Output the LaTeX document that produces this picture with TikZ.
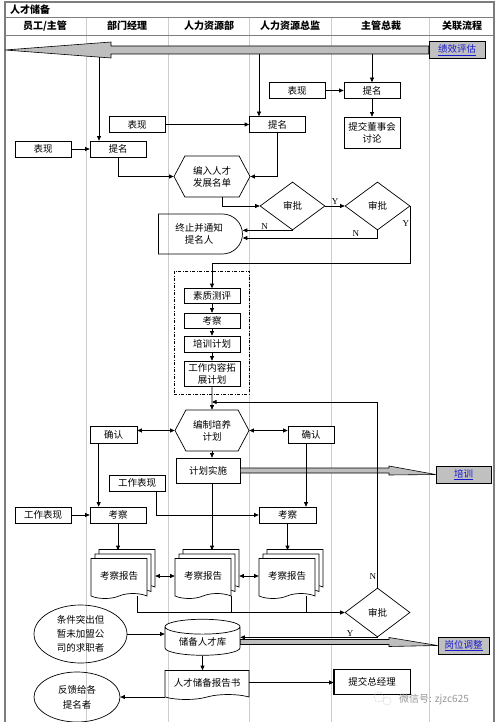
\documentclass[tikz,border=0pt]{standalone}
\usepackage{fontspec}
\setmainfont{Noto Sans CJK SC}
\newfontfamily\ynfont{Liberation Serif}
\usetikzlibrary{arrows.meta,shapes.geometric,shapes.misc,shapes.symbols,shadows}
\definecolor{LaneGray}{RGB}{205,205,205}
\definecolor{FrameGray}{RGB}{125,125,125}
\definecolor{BandGray}{RGB}{190,190,190}
\definecolor{LinkGray}{RGB}{192,192,192}
\definecolor{LinkBlue}{RGB}{25,25,205}
\definecolor{MarkGray}{RGB}{150,150,150}
\tikzset{
  >={Triangle[length=4.5pt,width=4pt]},
  every node/.style={font=\fontsize{9.5}{12}\selectfont, align=center, inner sep=1pt},
  box/.style={draw, line width=0.7pt, fill=white, minimum width=56pt, minimum height=16pt},
  link/.style={draw, line width=0.7pt, fill=LinkGray, text=LinkBlue, minimum height=17pt},
  hexbox/.style={signal, signal to=west and east, signal pointer angle=124, draw, line width=0.7pt, fill=white, minimum width=76pt, minimum height=41pt},
  check/.style={diamond, draw, line width=0.7pt, fill=white, minimum width=65pt, minimum height=48pt, inner sep=0pt},
  report/.style={tape, tape bend top=none, draw, line width=0.7pt, fill=white, minimum width=56pt, minimum height=40pt, double copy shadow={shadow xshift=4pt, shadow yshift=4.5pt}},
  flow/.style={->, line width=0.7pt},
  plain/.style={line width=0.7pt},
  band/.style={draw=black, fill=BandGray, line width=0.6pt},
  yn/.style={font=\ynfont\fontsize{9}{9}\selectfont},
  lane/.style={draw=LaneGray, line width=0.6pt},
  frame/.style={draw=FrameGray, line width=1.5pt},
  head/.style={font=\bfseries\fontsize{10}{12}\selectfont}
}
\begin{document}
\begin{tikzpicture}[x=1pt,y=-1pt]
    \useasboundingbox (0,0) rectangle (499,722);
    % lanes and frame
    \draw[lane] (86,17) -- (86,722);
    \draw[lane] (168,17) -- (168,722);
    \draw[lane] (249,17) -- (249,722);
    \draw[lane] (331,17) -- (331,722);
    \draw[lane] (429,17) -- (429,722);
    \draw[frame] (5,722) -- (5,2) -- (494,2) -- (494,722);
    \draw[draw=FrameGray, line width=0.8pt] (5,17) -- (494,17) (5,35) -- (494,35);
    \node[head, anchor=west] (title1) at (9,10) {人才储备};
    \node[head] (lane1) at (45,26) {员工/主管};
    \node[head] (lane2) at (127,26) {部门经理};
    \node[head] (lane3) at (209,26) {人力资源部};
    \node[head] (lane4) at (290,26) {人力资源总监};
    \node[head] (lane5) at (381,26) {主管总裁};
    \node[head] (lane6) at (462,26) {关联流程};

    % dashed group
    \node[draw, line width=0.6pt, dash pattern=on 3pt off 1.5pt on 1pt off 1.5pt, minimum width=75pt, minimum height=123pt] (group1) at (211.5,332.5) {};

    \node[link, minimum width=56pt] (link1) at (457,50) {\underline{绩效评估}};
    \node[box] (show3) at (297,90.5) {表现};
    \node[box] (nom3) at (372,90.5) {提名};
    \node[box, minimum height=31pt] (board1) at (372,132.5) {提交董事会\\讨论};
    \node[box] (show2) at (137,124.5) {表现};
    \node[box] (nom2) at (277.5,124.5) {提名};
    \node[box] (show1) at (43,149) {表现};
    \node[box] (nom1) at (118,149) {提名};
    \node[hexbox] (list1) at (212,176.5) {编入人才\\发展名单};
    \node[check] (appr1) at (292.5,206) {审批};
    \node[check] (appr2) at (377.5,206) {审批};
    \node[draw, line width=0.7pt, rounded rectangle, rounded rectangle left arc=none, minimum width=86pt, minimum height=40pt] (stop1) at (199,234) {终止并通知\\提名人};

    \node[box, minimum height=15pt] (eval1) at (212,296) {素质测评};
    \node[box, minimum height=15pt] (exam1) at (212,320.5) {考察};
    \node[box] (train1) at (212,344) {培训计划};
    \node[box, minimum height=25pt] (expand1) at (212,373.5) {工作内容拓\\展计划};

    \node[hexbox, minimum width=74pt] (plan1) at (212,430.5) {编制培养\\计划};
    \node[box, minimum width=47pt, minimum height=17pt] (conf1) at (113.5,434.5) {确认};
    \node[box, minimum width=46pt, minimum height=17pt] (conf2) at (311,434.5) {确认};
    \node[box, minimum width=64pt, minimum height=25pt] (impl1) at (208,470.5) {计划实施};
    \node[link, minimum width=55pt] (link2) at (463.5,474.5) {\underline{培训}};
    \node[box] (work2) at (137,483) {工作表现};
    \node[box] (work1) at (43,515) {工作表现};
    \node[box] (exam2) at (118,515) {考察};
    \node[box, minimum width=57pt] (exam3) at (287.5,515) {考察};

    \node[report] (report1) at (119,576) {考察报告};
    \node[report] (report2) at (203,576) {考察报告};
    \node[report] (report3) at (287,576) {考察报告};
    \node[check, minimum height=49pt] (appr3) at (377.5,612.5) {审批};

    \node[draw, ellipse, line width=0.7pt, minimum width=93pt, minimum height=58pt, inner sep=0pt, font=\fontsize{9.5}{14}\selectfont] (cand1) at (80.5,634) {条件突出但\\暂未加盟公\\司的求职者};
    \node[draw, cylinder, shape border rotate=90, aspect=0.3, line width=0.7pt, fill=white, minimum width=75pt, minimum height=36pt] (pool1) at (202.5,642) {储备人才库};
    \node[link, minimum width=51pt] (link3) at (463.5,645.5) {\underline{岗位调整}};
    \node[tape, tape bend top=none, draw, line width=0.7pt, minimum width=84pt, minimum height=29pt] (book1) at (207,682.5) {人才储备报告书};
    \node[box, minimum width=76pt, minimum height=25pt] (gm1) at (372,681.5) {提交总经理};
    \draw[line width=1.6pt] (gm1.north west) -- (gm1.south west) -- (gm1.south east);
    \node[draw, ellipse, line width=0.7pt, minimum width=86pt, minimum height=50pt, inner sep=0pt, font=\fontsize{9.5}{15}\selectfont] (feed1) at (77,697) {反馈给各\\提名者};

    \draw[MarkGray!60, line width=0.6pt, densely dotted] (379,697) circle (5) (387,701) circle (4);
    \node[text=MarkGray, anchor=west, font=\fontsize{10}{12}\selectfont] (mark1) at (398,700) {微信号: zjzc625};

    % bands
    \coordinate (edge1) at (5,50);
    \coordinate (head1) at (111,50);
    \draw[band] ([yshift=4pt]link1.west) -- ([yshift=4pt]head1) -- ([yshift=8pt]head1) -- (edge1) -- ([yshift=-8pt]head1) -- ([yshift=-4pt]head1) -- ([yshift=-4pt]link1.west) -- cycle;
    \coordinate (head2) at (389,470.5);
    \draw[band] ([yshift=2.5pt]impl1.east) -- ([yshift=2.5pt]head2) -- ([yshift=4.5pt]head2) -- (link2.west) -- ([yshift=-4.5pt]head2) -- ([yshift=-2.5pt]head2) -- ([yshift=-2.5pt]impl1.east) -- cycle;
    \coordinate (head3) at (389,642);
    \draw[band] ([yshift=2.5pt]pool1.east) -- ([yshift=2.5pt]head3) -- ([yshift=4.5pt]head3) -- (link3.west) -- ([yshift=-4.5pt]head3) -- ([yshift=-2.5pt]head3) -- ([yshift=-2.5pt]pool1.east) -- cycle;

    % connectors
    \coordinate (tap1) at (99,57);
    \coordinate (tap2) at (259,54);
    \coordinate (tap3) at (372,54);
    \draw[flow] (tap1) -- (tap1 |- nom1.north);
    \draw[flow] (tap2) -- (tap2 |- nom2.north);
    \draw[flow] (tap3) -- (nom3);
    \draw[flow] (show3) -- (nom3);
    \draw[flow] (nom3) -- (board1);
    \draw[flow] (show2) -- (nom2);
    \draw[flow] (show1) -- (nom1);
    \draw[flow] (nom1) |- (list1);
    \draw[flow] (nom2) |- (list1);
    \draw[flow] ([xshift=10pt]list1.south) |- (appr1);
    \draw[flow] (appr1) -- node[yn, above] {Y} (appr2);
    \draw[flow] (appr1.south) -- node[yn, fill=white, yshift=4pt, xshift=-3pt] {N} (appr1.south -| stop1.east);
    \draw[flow] (appr2.south) |- node[yn, pos=0.58, above] {N} ([yshift=-4pt]stop1.east);
    \draw[flow] (appr2.east) -- node[yn, pos=0.3, left] {Y} ++(0,57) -| (eval1.north);
    \draw[flow] (eval1) -- (exam1);
    \draw[flow] (exam1) -- (train1);
    \draw[flow] (train1) -- (expand1);
    \draw[flow] (expand1) -- (plan1);
    \coordinate (merge1) at (212,402);
    \draw[flow] (appr3.north) |- node[yn, pos=0.03, left] {N} (merge1);
    \draw[flow, <->] (conf1.east |- plan1.west) -- (plan1.west);
    \draw[flow, <->] (plan1.east) -- (plan1.east -| conf2.west);
    \draw[flow] (plan1.south) -- (plan1.south |- impl1.north);
    \coordinate (drop1) at ([xshift=9pt]conf1.south west);
    \coordinate (drop2) at ([xshift=-5pt]conf2.south);
    \coordinate (drop3) at ([xshift=19pt]work2.south);
    \coordinate (drop4) at ([xshift=4pt]impl1.south);
    \draw[flow] (drop1) -- (drop1 |- exam2.north);
    \draw[flow] (drop2) -- (drop2 |- exam3.north);
    \draw[flow] (work1) -- (exam2);
    \draw[flow] (drop3) |- (exam3);
    \coordinate (top1) at ([yshift=8pt]report1.north);
    \coordinate (top2) at ([yshift=8pt]report2.north);
    \coordinate (top3) at ([yshift=8pt]report3.north);
    \draw[flow] (exam2) -- (exam2 |- top1);
    \draw[flow] (drop4) -- (drop4 |- top2);
    \draw[flow] (exam3) -- (exam3 |- top3);
    \draw[flow, <->] ([xshift=8pt]report1.east) -- (report2.west);
    \draw[flow, <->] ([xshift=8pt]report2.east) -- (report3.west);
    \coordinate (out1) at ([xshift=18pt, yshift=-2pt]report1.south);
    \coordinate (out2) at ([xshift=28pt, yshift=-2pt]report2.south);
    \coordinate (out3) at ([xshift=19pt, yshift=-2pt]report3.south);
    \draw[flow] (out1) |- (appr3);
    \draw[plain] (out2) -- (out2 |- appr3.west);
    \draw[plain] (out3) -- (out3 |- appr3.west);
    \draw[flow] (cand1.east) -- (cand1.east -| pool1.west);
    \draw[flow] (appr3.south) -- node[yn, pos=0.2, above] {Y} (appr3.south -| pool1.east);
    \draw[flow] (pool1.south) -- (pool1.south |- book1.north);
    \draw[flow] (book1.east) -- (book1.east -| gm1.west);
    \draw[flow] (book1.west |- feed1.east) -- (feed1.east);
\end{tikzpicture}
\end{document}
